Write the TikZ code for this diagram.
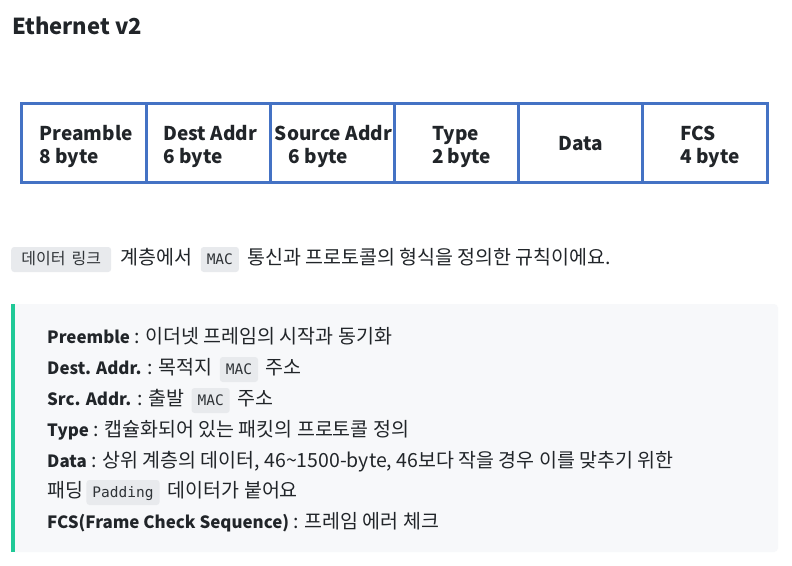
\documentclass[tikz,border=0pt]{standalone}
\usepackage{fontspec}
\setmainfont{Noto Sans CJK KR}
\newfontfamily\codefont{DejaVu Sans Mono}
\newfontfamily\codekr{Noto Sans CJK KR}
\usetikzlibrary{positioning}

\definecolor{frameblue}{HTML}{4472C4}
\definecolor{inkdark}{HTML}{212529}
\definecolor{chipgray}{HTML}{E8EAED}
\definecolor{chipink}{HTML}{2F3337}
\definecolor{quotebg}{HTML}{F7F8FA}
\definecolor{quotebar}{HTML}{20C997}

% bold term at the start of a note line
\newcommand{\term}[1]{{\fontsize{16.9}{20}\selectfont\bfseries #1}}

\tikzset{
  field/.style={draw=frameblue, line width=3pt, minimum width=124.17pt,
    minimum height=79pt, outer sep=0pt, inner sep=0pt},
  fieldtext/.style={inner sep=0pt, align=left, text=inkdark,
    font=\fontsize{19}{23}\selectfont\bfseries},
  txt/.style={inner sep=0pt, text=inkdark, font=\fontsize{19.5}{23}\selectfont},
  chip/.style={fill=chipgray, rounded corners=3pt, inner xsep=6pt,
    inner ysep=6pt, text height=11pt, text depth=2pt, text=chipink,
    font=\fontsize{14.5}{16}\codefont},
}

\begin{document}
\begin{tikzpicture}[x=1pt,y=-1pt]
\useasboundingbox[fill=white] (0,0) rectangle (792,565);

% title
\node[txt, anchor=base west, font=\fontsize{22}{26}\selectfont\bfseries] (title) at (12,34) {Ethernet v2};

% frame fields
\node[field] (pre) at (84.08,142.5) {};
\node[field, right=0pt of pre] (dst) {};
\node[field, right=0pt of dst] (src) {};
\node[field, right=0pt of src] (typ) {};
\node[field, right=0pt of typ] (dat) {};
\node[field, right=0pt of dat] (fcs) {};
\node[fieldtext, xshift=2pt, yshift=-4pt] (preT) at (pre) {Preamble\\8 byte};
\node[fieldtext, xshift=2pt, yshift=-4pt] (dstT) at (dst) {Dest Addr\\6 byte};
\node[fieldtext, xshift=1pt, yshift=-4pt] (srcT) at (src) {Source Addr\\\hspace*{14pt}6 byte};
\node[fieldtext, xshift=5pt, yshift=-4pt] (typT) at (typ) {Type\\2 byte};
\node[fieldtext, yshift=-1pt] (datT) at (dat) {Data};
\node[fieldtext, xshift=5pt, yshift=-4pt] (fcsT) at (fcs) {FCS\\4 byte};

% sentence
\node[chip, anchor=base west, minimum width=100pt, font=\fontsize{16}{17}\codekr] (link) at (11,264) {데이터\hspace{6pt}링크};
\node[txt, base right=9pt of link] (layer) {계층에서};
\node[chip, base right=8pt of layer] (mac) {MAC};
\node[txt, base right=8pt of mac] (rule) {통신과 프로토콜의 형식을 정의한 규칙이에요.};

% note box
\fill[quotebg, rounded corners=4pt] (11,304) rectangle (778,552);
\fill[quotebar] (11,304) rectangle (15,552);

\node[txt, anchor=base west] (n1) at (47,343) {\term{Preemble} : 이더넷 프레임의 시작과 동기화};
\node[txt, anchor=base west] (n2) at (47,374) {\term{Dest. Addr.} : 목적지};
\node[chip, base right=7pt of n2] (n2mac) {MAC};
\node[txt, base right=7pt of n2mac] (n2b) {주소};
\node[txt, anchor=base west] (n3) at (47,405) {\term{Src. Addr.} : 출발};
\node[chip, base right=7pt of n3] (n3mac) {MAC};
\node[txt, base right=7pt of n3mac] (n3b) {주소};
\node[txt, anchor=base west] (n4) at (47,436) {\term{Type} : 캡슐화되어 있는 패킷의 프로토콜 정의};
\node[txt, anchor=base west] (n5) at (47,467) {\term{Data} : 상위 계층의 데이터, 46\textasciitilde1500-byte, 46보다 작을 경우 이를 맞추기 위한};
\node[txt, anchor=base west] (n6) at (47,497) {패딩};
\node[chip, base right=3pt of n6] (pad) {Padding};
\node[txt, base right=8pt of pad] (n6b) {데이터가 붙어요};
\node[txt, anchor=base west] (n7) at (47,528) {\term{FCS(Frame Check Sequence)} : 프레임 에러 체크};
\end{tikzpicture}
\end{document}
